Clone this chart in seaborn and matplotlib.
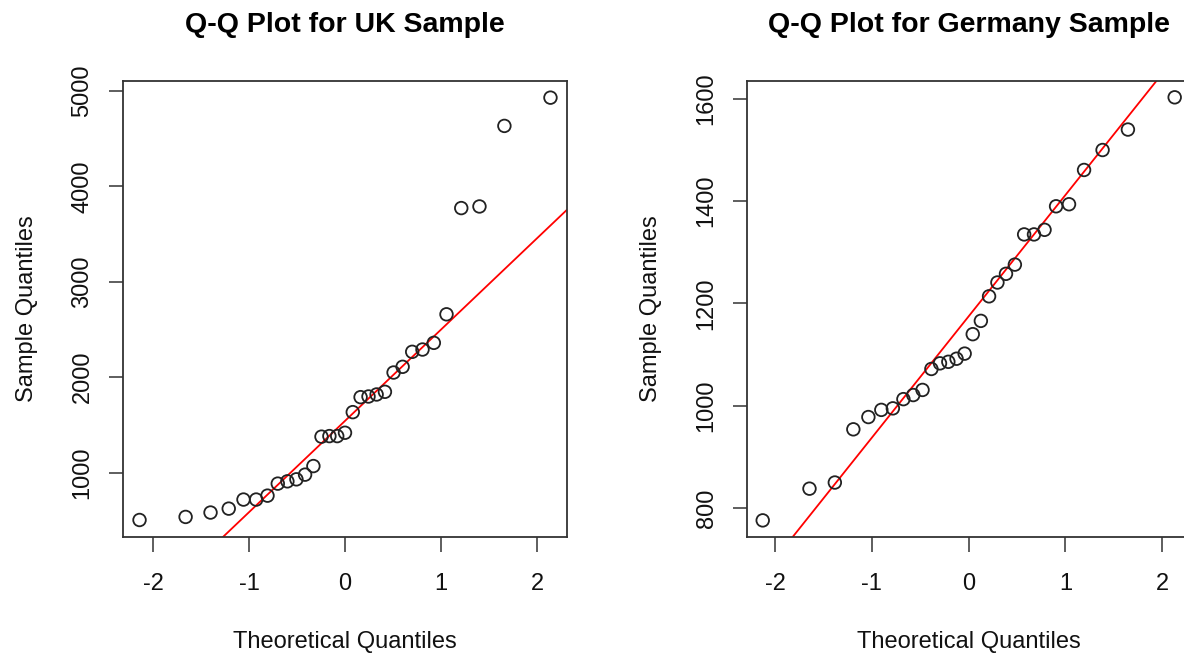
import numpy as np
import pandas as pd
import matplotlib
matplotlib.use("Agg")
import matplotlib.pyplot as plt
import seaborn as sns
from statistics import NormalDist

# ---- data ----
uk_theoretical = [-2.1403, -1.6604, -1.4007, -1.2111, -1.0574, -0.9253, -0.8073, -0.7001,
                  -0.6002, -0.5060, -0.4159, -0.3293, -0.2448, -0.1624, -0.0810, 0.0,
                  0.0810, 0.1624, 0.2448, 0.3293, 0.4159, 0.5060, 0.6002, 0.7001,
                  0.8073, 0.9253, 1.0574, 1.2111, 1.4007, 1.6604, 2.1403]
uk_sample = [504, 536, 582, 623, 718, 718, 759, 885, 909, 930, 979, 1069, 1377, 1383, 1383,
             1418, 1634, 1791, 1798, 1819, 1847, 2049, 2109, 2266, 2290, 2360, 2659, 3772,
             3789, 4633, 4929]

de_theoretical = [-2.1280, -1.6449, -1.3830, -1.1918, -1.0364, -0.9027, -0.7835, -0.6745,
                  -0.5729, -0.4770, -0.3853, -0.2967, -0.2104, -0.1257, -0.0418,
                  0.0418, 0.1257, 0.2104, 0.2967, 0.3853, 0.4770, 0.5729, 0.6745,
                  0.7835, 0.9027, 1.0364, 1.1918, 1.3830, 1.6449, 2.1280]
de_sample = [776, 838, 850, 954, 978, 992, 995, 1013, 1021, 1031, 1072, 1083, 1086, 1092, 1102,
             1140, 1166, 1214, 1241, 1258, 1276, 1335, 1335, 1344, 1390, 1394, 1461, 1500,
             1540, 1603]

titles = ["Q-Q Plot for UK Sample", "Q-Q Plot for Germany Sample"]
x_ticks = [-2, -1, 0, 1, 2]
uk_y_ticks = [1000, 2000, 3000, 4000, 5000]
de_y_ticks = [800, 1000, 1200, 1400, 1600]

sns.set_style("ticks")
plt.rcParams['font.family'] = ['Liberation Sans', 'DejaVu Sans']

fig = plt.figure(figsize=(11.84, 6.56), dpi=100)
ax1 = fig.add_axes([0.1036, 0.181, 0.375, 0.6956])
ax2 = fig.add_axes([0.6307, 0.181, 0.375, 0.6956])

panels = [
    (ax1, uk_theoretical, uk_sample, titles[0], uk_y_ticks, (-2.316, 2.309), (323, 5104)),
    (ax2, de_theoretical, de_sample, titles[1], de_y_ticks, (-2.293, 2.294), (743, 1635)),
]

q25, q75 = NormalDist().inv_cdf(0.25), NormalDist().inv_cdf(0.75)

for ax, tq, sq, title, yt, xl, yl in panels:
    df = pd.DataFrame({"Theoretical Quantiles": tq, "Sample Quantiles": sq})
    sns.scatterplot(data=df, x="Theoretical Quantiles", y="Sample Quantiles", ax=ax,
                    marker="o", s=82, facecolor="none", edgecolor="#222222",
                    linewidth=1.3, legend=False, zorder=3)
    y25, y75 = np.quantile(sq, [0.25, 0.75])
    slope = (y75 - y25) / (q75 - q25)
    intercept = y25 - slope * q25
    ax.axline((0, intercept), slope=slope, color="#ff0000", linewidth=1.3, zorder=2)

    ax.set_xlim(*xl)
    ax.set_ylim(*yl)
    ax.set_xticks(x_ticks)
    ax.set_xticklabels([str(v) for v in x_ticks])
    ax.set_yticks(yt)
    ax.set_yticklabels([str(v) for v in yt])
    for s in ax.spines.values():
        s.set_visible(True)
        s.set_color("#333333")
        s.set_linewidth(1.3)
    ax.tick_params(axis="x", length=10.5, width=1.1, color="#333333", pad=15,
                   labelsize=17, labelcolor="#111111")
    ax.tick_params(axis="y", length=10, width=1.1, color="#333333", pad=11,
                   labelsize=17, labelcolor="#111111", labelrotation=90)
    for lab in ax.get_yticklabels():
        lab.set_va("center")
        lab.set_ha("right")
    ax.set_xlabel("Theoretical Quantiles", fontsize=17, labelpad=26, color="#111111")
    ax.set_ylabel("Sample Quantiles", fontsize=17, labelpad=24, color="#111111")
    ax.set_title(title, fontsize=20.5, fontweight="bold", pad=35, color="#000000")

# the right panel's box runs past the picture's right edge, as in the reference
ax2.spines["right"].set_visible(False)

fig.savefig("out.png", dpi=100, facecolor="white")
